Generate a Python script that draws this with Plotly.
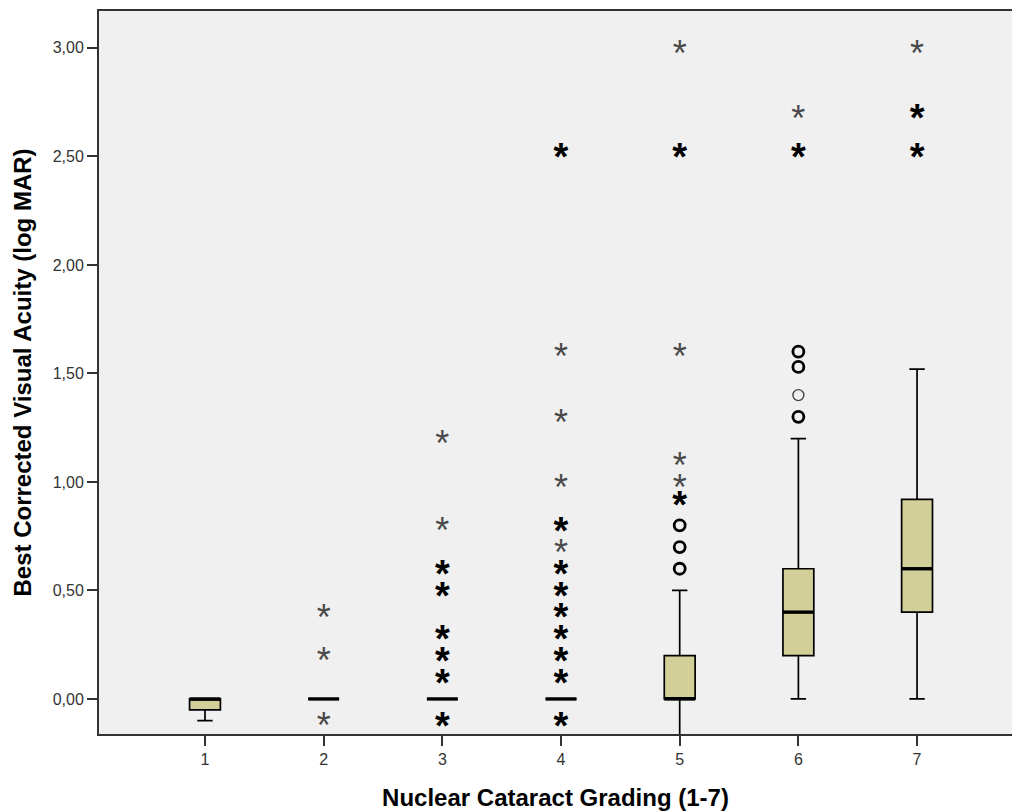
import plotly.graph_objects as go

# ---------------- data ----------------
categories = [1, 2, 3, 4, 5, 6, 7]
q1 = [-0.05, 0.00, 0.00, 0.00, 0.00, 0.20, 0.40]
median = [0.00, 0.00, 0.00, 0.00, 0.00, 0.40, 0.60]
q3 = [0.00, 0.00, 0.00, 0.00, 0.20, 0.60, 0.92]
lower_whisker = [-0.10, 0.00, 0.00, 0.00, -0.20, 0.00, 0.00]
upper_whisker = [0.00, 0.00, 0.00, 0.00, 0.50, 1.20, 1.52]

# extreme outliers (stars): group, value, bold (overlapping cases)
star_group = [2, 2, 2,
              3, 3, 3, 3, 3, 3, 3, 3,
              4, 4, 4, 4, 4, 4, 4, 4, 4, 4, 4, 4, 4,
              5, 5, 5, 5, 5, 5,
              6, 6,
              7, 7, 7]
star_value = [0.40, 0.20, -0.10,
              1.20, 0.80, 0.60, 0.50, 0.30, 0.20, 0.10, -0.10,
              2.52, 1.60, 1.30, 1.00, 0.80, 0.70, 0.60, 0.50, 0.40, 0.30, 0.20, 0.10, -0.10,
              3.00, 2.52, 1.60, 1.10, 1.00, 0.92,
              2.70, 2.52,
              3.00, 2.70, 2.52]
star_bold = [0, 0, 0,
             0, 0, 1, 1, 1, 1, 1, 1,
             1, 0, 0, 0, 1, 0, 1, 1, 1, 1, 1, 1, 1,
             0, 1, 0, 0, 0, 1,
             0, 1,
             0, 1, 1]

# mild outliers (circles)
circle_group = [5, 5, 5, 6, 6, 6, 6]
circle_value = [0.80, 0.70, 0.60, 1.60, 1.53, 1.40, 1.30]
circle_bold = [1, 1, 1, 1, 1, 0, 1]

y_tickvals = [0.0, 0.5, 1.0, 1.5, 2.0, 2.5, 3.0]
y_ticktext = ["0,00", "0,50", "1,00", "1,50", "2,00", "2,50", "3,00"]

# ---------------- styles ----------------
BOX_W = 0.26
FILL = "#d3cf98"
AX = "#333333"
FONT = "Liberation Sans"

fig = go.Figure()

fig.add_trace(go.Box(
    x=categories, q1=q1, median=median, q3=q3,
    lowerfence=lower_whisker, upperfence=upper_whisker,
    width=BOX_W, whiskerwidth=0.5,
    fillcolor=FILL, line=dict(color="black", width=1.7),
    boxpoints=False, hoverinfo="skip", showlegend=False,
))

# thick median lines
mx, my = [], []
for c, m in zip(categories, median):
    mx += [c - BOX_W / 2, c + BOX_W / 2, None]
    my += [m, m, None]
fig.add_trace(go.Scatter(x=mx, y=my, mode="lines",
                         line=dict(color="black", width=3.4),
                         hoverinfo="skip", showlegend=False))

# circles
for bold in (0, 1):
    xs = [g for g, b in zip(circle_group, circle_bold) if b == bold]
    ys = [v for v, b in zip(circle_value, circle_bold) if b == bold]
    fig.add_trace(go.Scatter(
        x=xs, y=ys, mode="markers",
        marker=dict(symbol="circle-open", size=11,
                    color="black" if bold else "#444444",
                    line=dict(width=2.8 if bold else 1.4)),
        hoverinfo="skip", showlegend=False))

# stars: glyph drawn at a smaller size inside a larger text box,
# which places the asterisk centre on the data value
for bold in (0, 1):
    xs = [g for g, b in zip(star_group, star_bold) if b == bold]
    ys = [v for v, b in zip(star_value, star_bold) if b == bold]
    glyph = '<span style="font-size:%dpx">*</span>' % (38 if bold else 36)
    fig.add_trace(go.Scatter(
        x=xs, y=ys, mode="text", text=[glyph] * len(xs),
        textposition="middle center",
        textfont=dict(family=FONT, size=73 if bold else 71,
                      color="black" if bold else "#4a4a4a",
                      weight="bold" if bold else "normal"),
        hoverinfo="skip", showlegend=False))

fig.update_layout(
    width=1012, height=811,
    margin=dict(l=99, r=0, t=11, b=77),
    paper_bgcolor="white", plot_bgcolor="#f0f0f0",
    font=dict(family=FONT, color=AX),
    showlegend=False,
)
fig.update_xaxes(
    range=[0.107, 7.8], tickvals=categories,
    ticktext=[str(c) for c in categories],
    ticks="outside", ticklen=10, tickwidth=2, tickcolor=AX,
    tickfont=dict(size=16, color=AX),
    showline=True, linecolor=AX, linewidth=2, mirror=True,
    showgrid=False, zeroline=False,
    title=dict(text="<b>Nuclear Cataract Grading (1-7)</b>",
               font=dict(size=24, color="black"), standoff=26),
)
fig.update_yaxes(
    range=[-0.1615, 3.170], tickvals=y_tickvals, ticktext=y_ticktext,
    ticks="outside", ticklen=10, tickwidth=2, tickcolor=AX,
    tickfont=dict(size=16, color=AX),
    showline=True, linecolor=AX, linewidth=2,
    showgrid=False, zeroline=False,
    title=dict(text="<b>Best Corrected Visual Acuity (log MAR)</b>",
               font=dict(size=24, color="black"), standoff=14),
)

fig.write_html("out.html")
